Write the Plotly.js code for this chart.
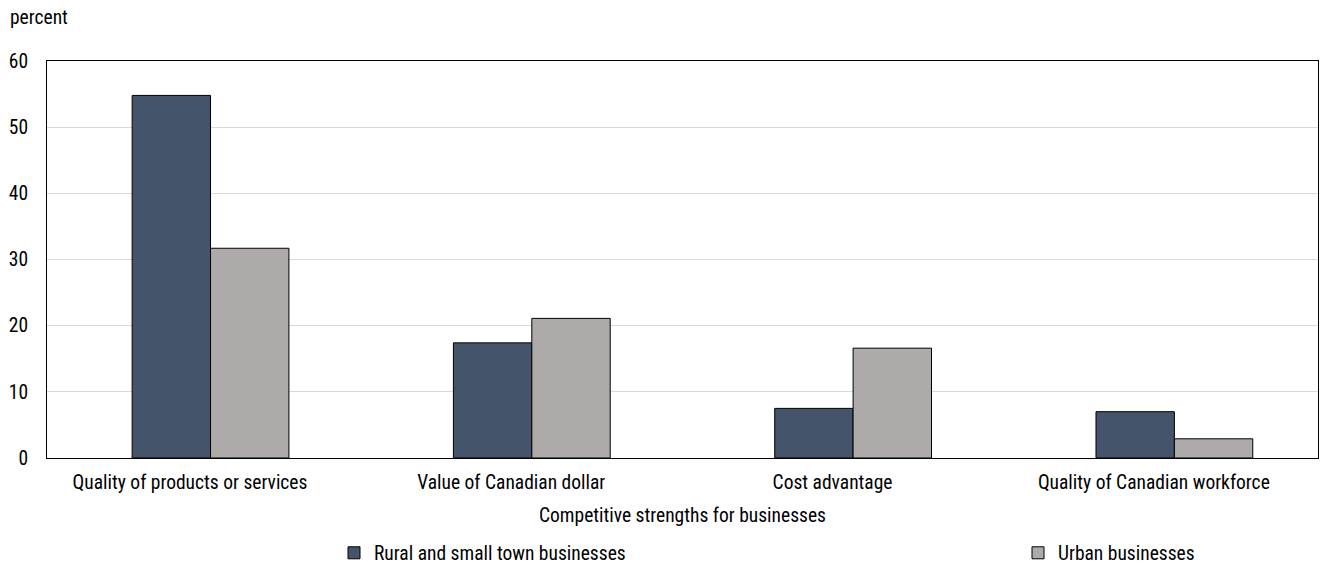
<!DOCTYPE html>
<html><head><meta charset="utf-8">
<script src="https://cdn.plot.ly/plotly-3.0.1.min.js"></script>
<style>html,body{margin:0;padding:0;background:#fff}#chart{width:1330px;height:565px}</style>
</head><body><div id="chart"></div>
<script>
const categories = ["Quality of products or services","Value of Canadian dollar","Cost advantage","Quality of Canadian workforce"];
const rural = [54.8, 17.4, 7.5, 7.0];
const urban = [31.7, 21.1, 16.6, 2.9];
const seriesNames = ["Rural and small town businesses","Urban businesses"];
const yTicks = [0,10,20,30,40,50,60];
const FONT = '"Liberation Sans Narrow","Roboto Condensed","Arial Narrow",Roboto,sans-serif';
const FS = 19.5;
const BW = 0.244, SHIFT = 0.064;

const data = [
 {type:'bar', x:categories, y:rural, name:seriesNames[0], legend:'legend', width:BW, offset:SHIFT-BW, marker:{color:'#44546a', line:{color:'#000', width:1}}},
 {type:'bar', x:categories, y:urban, name:seriesNames[1], legend:'legend2', width:BW, offset:SHIFT, marker:{color:'#aeaaaa', line:{color:'#000', width:1}}}
];
const legendBase = {orientation:'h', yref:'container', y:0.021, yanchor:'middle', xanchor:'left',
   font:{family:FONT,size:FS}, itemwidth:30, bgcolor:'rgba(0,0,0,0)'};
const layout = {
 width:1330, height:565,
 margin:{l:47, r:12, t:61, b:107, autoexpand:false},
 font:{family:FONT, size:FS, color:'#000'},
 barmode:'overlay',
 paper_bgcolor:'#fff', plot_bgcolor:'#fff',
 xaxis:{type:'category', range:[-0.445,3.511], showline:true, linecolor:'#000', linewidth:1, mirror:true,
   ticks:'', ticklabelstandoff:7, tickfont:{family:FONT,size:FS}, title:{text:'Competitive strengths for businesses', font:{family:FONT,size:FS}, standoff:14}},
 yaxis:{range:[0,60], tickvals:yTicks, showline:true, linecolor:'#000', linewidth:1, mirror:true,
   gridcolor:'#d9d9d9', gridwidth:1, ticks:'', ticklabelstandoff:14, tickfont:{family:FONT,size:FS}, zeroline:false},
 legend:Object.assign({}, legendBase, {xref:'container', x:334/1330}),
 legend2:Object.assign({}, legendBase, {xref:'container', x:1018/1330}),
 showlegend:true,
 annotations:[{text:'percent', xref:'paper', yref:'paper', x:(8-47)/1271, xanchor:'left', y:(458-17)/397, yanchor:'middle', showarrow:false, font:{family:FONT,size:FS}}]
};
Plotly.newPlot('chart', data, layout, {displayModeBar:false});
</script></body></html>
